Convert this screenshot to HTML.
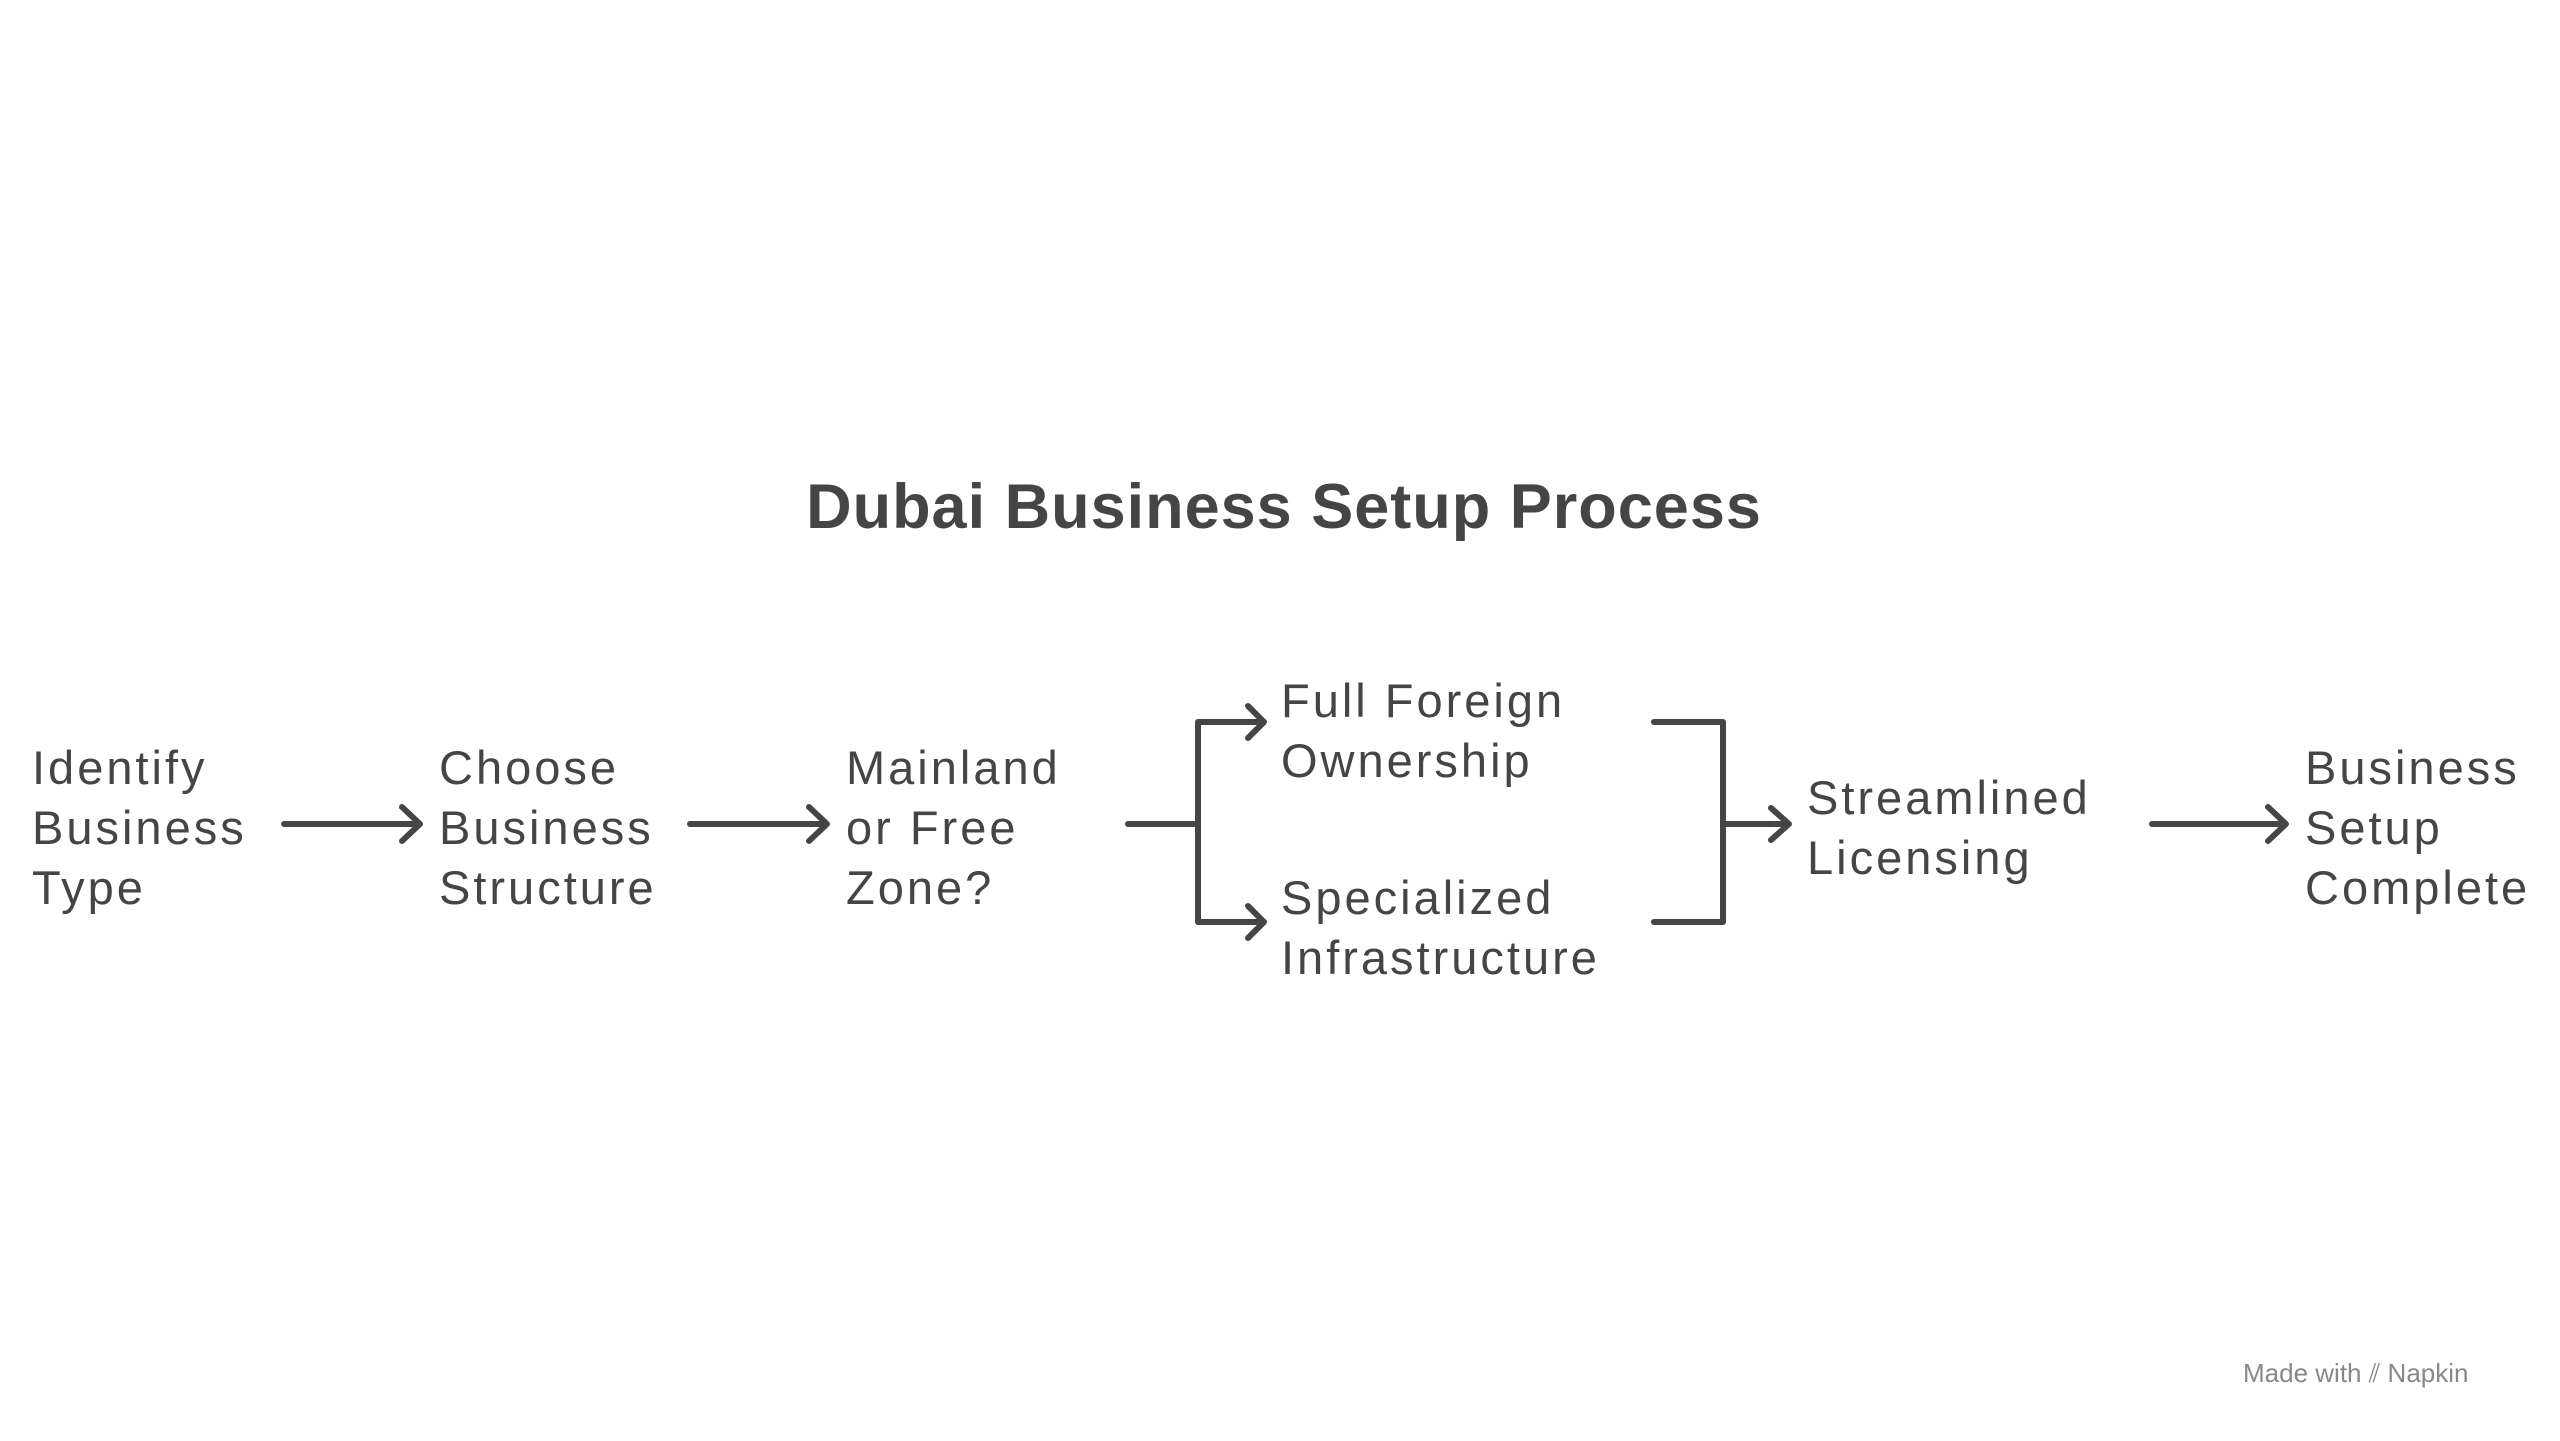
<!DOCTYPE html>
<html><head><style>
html,body{margin:0;padding:0;background:#fff;}
body{width:2560px;height:1441px;position:relative;overflow:hidden;font-family:"Liberation Sans",sans-serif;color:#454545;}
.t{position:absolute;font-size:47px;line-height:60px;white-space:nowrap;letter-spacing:3px;}
.title{position:absolute;left:0;width:2568px;text-align:center;top:467px;font-size:63px;font-weight:bold;line-height:80px;letter-spacing:1px;}
.wm{position:absolute;left:2243px;top:1358px;font-size:26px;color:#888;}
svg{position:absolute;left:0;top:-5px;}
</style></head><body>
<div class="title">Dubai Business Setup Process</div>
<div class="t" style="left:32px;top:738px">Identify<br>Business<br>Type</div>
<div class="t" style="left:439px;top:738px">Choose<br>Business<br>Structure</div>
<div class="t" style="left:846px;top:738px">Mainland<br>or Free<br>Zone?</div>
<div class="t" style="left:1281px;top:671px">Full Foreign<br>Ownership</div>
<div class="t" style="left:1281px;top:868px">Specialized<br>Infrastructure</div>
<div class="t" style="left:1807px;top:768px">Streamlined<br>Licensing</div>
<div class="t" style="left:2305px;top:738px">Business<br>Setup<br>Complete</div>
<div class="wm">Made with ⫽ Napkin</div>
<svg width="2560" height="1441" fill="none" stroke="#454545" stroke-width="6" stroke-linecap="round" stroke-linejoin="round">
<path d="M284 829H418M402 812L420 829L402 846"/>
<path d="M690 829H825M809 812L827 829L809 846"/>
<path d="M1128 829H1198M1198 727V927M1198 727H1262M1198 927H1262M1248 711L1264 727L1248 743M1248 911L1264 927L1248 943"/>
<path d="M1654 727H1723V927H1654M1723 829H1787M1771 813L1789 829L1771 845"/>
<path d="M2152 829H2284M2268 812L2286 829L2268 846"/>
</svg>
</body></html>
